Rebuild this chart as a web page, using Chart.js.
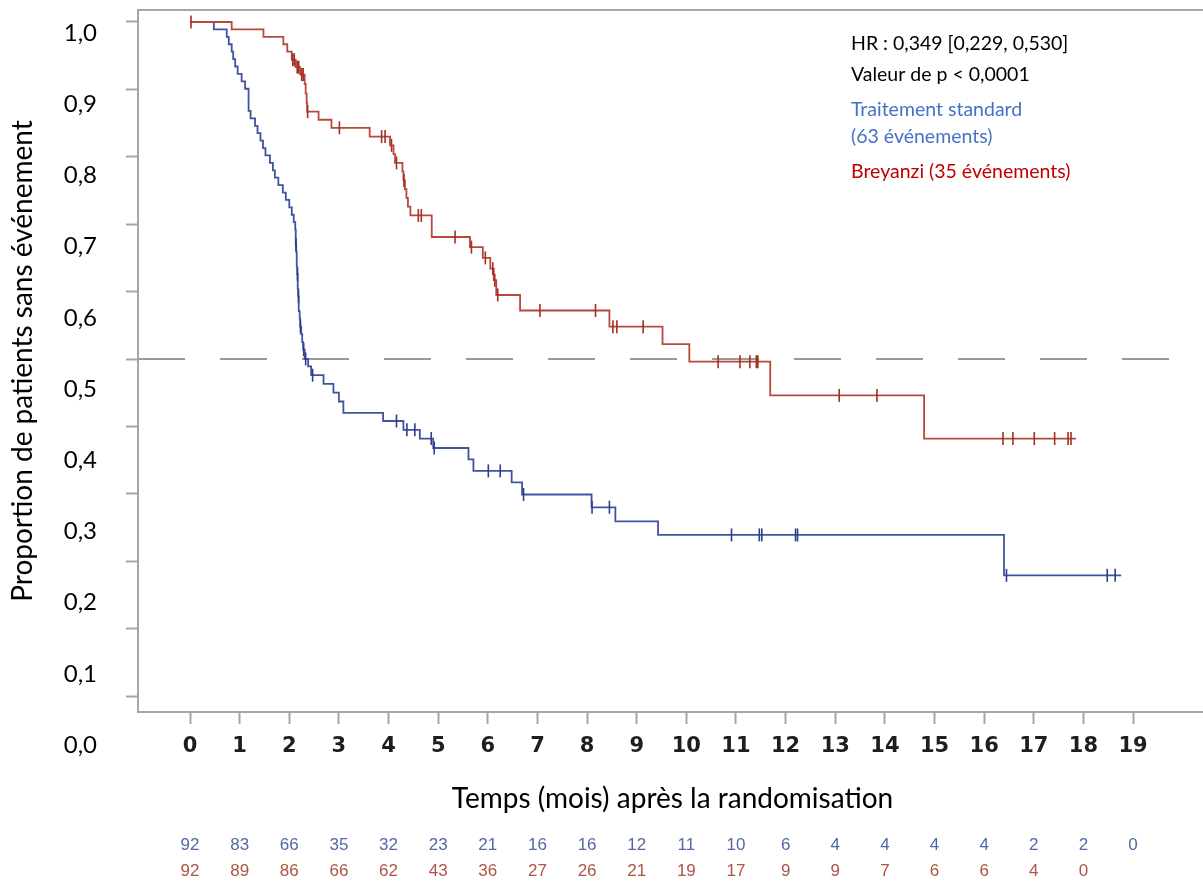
<!DOCTYPE html>
<html><head><meta charset="utf-8">
<script src="https://cdn.jsdelivr.net/npm/chart.js@4.4.0/dist/chart.umd.min.js"></script>
<style>
html,body{margin:0;padding:0;background:#fff;overflow:hidden;}
#wrap{width:1203px;height:884px;position:relative;overflow:hidden;}
#inner{width:1207px;height:884px;position:relative;}
canvas{display:block;}
</style></head>
<body><div id="wrap"><div id="inner"><canvas id="c"></canvas></div></div>
<script>
// ---------------- data ----------------
const xTicks = [0,1,2,3,4,5,6,7,8,9,10,11,12,13,14,15,16,17,18,19];
const yTicks = [0,0.1,0.2,0.3,0.4,0.5,0.6,0.7,0.8,0.9,1.0];

// Traitement standard : event times (months) and survival after each event
const stdTimes = [0.48,0.74,0.78,0.84,0.87,0.91,0.96,1.04,1.11,1.18,1.22,1.31,1.36,1.42,1.47,1.52,1.61,1.67,1.71,1.78,1.87,1.93,2.00,2.05,2.09,2.12,2.13,2.14,2.15,2.16,2.17,2.18,2.19,2.21,2.22,2.24,2.26,2.28,2.31,2.38,2.44,2.69,2.89,3.00,3.09,3.89,4.30,4.63,4.90,5.61,5.71,6.48,6.69,8.09,8.57,9.43,16.40];
const stdSurv  = [0.989,0.978,0.967,0.956,0.945,0.934,0.923,0.912,0.901,0.868,0.857,0.846,0.835,0.824,0.813,0.802,0.791,0.780,0.769,0.758,0.747,0.736,0.725,0.714,0.703,0.692,0.670,0.659,0.637,0.626,0.604,0.593,0.571,0.560,0.548,0.537,0.525,0.514,0.500,0.489,0.476,0.463,0.450,0.437,0.420,0.408,0.395,0.382,0.368,0.351,0.334,0.317,0.299,0.280,0.259,0.239,0.179];
const stdEnd = 18.76;
const stdCensor = [2.135,2.165,2.185,2.225,2.29,2.33,2.47,4.16,4.37,4.53,4.86,4.92,6.01,6.25,6.72,8.10,8.45,10.91,11.47,11.52,12.20,12.24,16.45,18.48,18.64];

// Breyanzi
const breyTimes = [0.84,1.48,1.88,1.96,2.05,2.13,2.22,2.31,2.33,2.35,2.36,2.59,2.85,3.62,4.03,4.10,4.13,4.28,4.30,4.33,4.36,4.39,4.44,4.87,5.64,5.90,6.05,6.12,6.17,6.65,8.45,9.52,10.06,11.69,14.79];
const breySurv  = [0.989,0.978,0.967,0.956,0.944,0.933,0.922,0.908,0.894,0.880,0.867,0.855,0.843,0.830,0.817,0.804,0.791,0.778,0.765,0.752,0.739,0.726,0.713,0.681,0.666,0.650,0.634,0.617,0.595,0.572,0.548,0.522,0.496,0.446,0.382];
const breyEnd = 17.85;
const breyCensor = [0.02,2.07,2.10,2.16,2.19,2.25,2.28,2.37,3.01,3.86,3.93,4.06,4.16,4.31,4.60,4.66,5.34,5.67,5.95,6.10,6.14,6.20,7.05,8.17,8.52,8.60,9.13,10.64,11.08,11.28,11.41,11.44,13.08,13.84,16.38,16.58,17.01,17.42,17.69,17.75];

const medianLevel = 0.5;

const atRiskStd  = [92,83,66,35,32,23,21,16,16,12,11,10,6,4,4,4,4,2,2,0];
const atRiskBrey = [92,89,86,66,62,43,36,27,26,21,19,17,9,9,7,6,6,4,0];

const noteTexts = ['HR : 0,349 [0,229, 0,530]','Valeur de p < 0,0001','Traitement standard','(63 événements)','Breyanzi (35 événements)'];
const seriesNames = ['Traitement standard','Breyanzi'];
const xTitle = 'Temps (mois) après la randomisation';
const yTitle = 'Proportion de patients sans événement';

// ---------------- styling / layout ----------------
const X_MIN = -1.048, X_MAX = 20.49;
const Y_MIN = -0.0237, Y_MAX = 1.0178;
const YL_MIN = 0.0463, YL_MAX = 1.0323;
const GRAY = '#a6a6a6';
const BLUE = '#41539f', RED = '#b8483c';
const BLUE_C = '#2d3f8a', RED_C = '#a32e24';
const noteColors = ['#000000','#000000','#4472c4','#4472c4','#c00000'];
const noteY = [44,75,110,137,172];
const NOTE_X = 851;

function curve(times, surv, end) {
  const pts = [{x: 0, y: 1}];
  times.forEach((t, i) => pts.push({x: t, y: surv[i]}));
  pts.push({x: end, y: surv[surv.length - 1]});
  return pts;
}
function survAt(times, surv, t) {
  let s = 1;
  for (let i = 0; i < times.length; i++) if (times[i] <= t) s = surv[i];
  return s;
}
function censorPts(cens, times, surv) {
  return cens.map(t => ({x: t, y: survAt(times, surv, t)}));
}

const notesPlugin = {
  id: 'notes',
  afterDraw(chart) {
    const ctx = chart.ctx;
    ctx.save();
    ctx.font = '19.5px Lato';
    ctx.textBaseline = 'middle';
    ctx.textAlign = 'left';
    noteTexts.forEach((t, i) => { ctx.fillStyle = noteColors[i]; ctx.fillText(t, NOTE_X, noteY[i]); });
    ctx.restore();
  }
};

function zeroPad(s) { s.paddingLeft = 0; s.paddingRight = 0; s.paddingTop = 0; s.paddingBottom = 0; }

new Chart(document.getElementById('c'), {
  type: 'line',
  data: {
    datasets: [
      {label: seriesNames[1] + ' (censurés)', data: censorPts(breyCensor, breyTimes, breySurv), showLine: false,
       pointStyle: 'line', pointRotation: 90, pointRadius: 6.5, pointBorderWidth: 1.6,
       pointBorderColor: RED_C, borderColor: RED_C, order: 0},
      {label: seriesNames[0] + ' (censurés)', data: censorPts(stdCensor, stdTimes, stdSurv), showLine: false,
       pointStyle: 'line', pointRotation: 90, pointRadius: 6.5, pointBorderWidth: 1.6,
       pointBorderColor: BLUE_C, borderColor: BLUE_C, order: 1},
      {label: seriesNames[1], data: curve(breyTimes, breySurv, breyEnd), stepped: true,
       borderColor: RED, borderWidth: 1.8, pointRadius: 0, fill: false, order: 2},
      {label: seriesNames[0], data: curve(stdTimes, stdSurv, stdEnd), stepped: true,
       borderColor: BLUE, borderWidth: 1.8, pointRadius: 0, fill: false, order: 3},
      {label: 'Médiane', data: [{x: X_MIN, y: medianLevel}, {x: X_MAX, y: medianLevel}],
       borderColor: '#9a9a9a', borderWidth: 2, borderDash: [47, 35], pointRadius: 0, fill: false, order: 10}
    ]
  },
  options: {
    responsive: true, maintainAspectRatio: false, animation: false,
    layout: {autoPadding: false, padding: {top: 10, left: 0, right: 0, bottom: 0}},
    plugins: {legend: {display: false}, tooltip: {enabled: false}},
    scales: {
      x: {
        type: 'linear', position: 'bottom', min: X_MIN, max: X_MAX, weight: 0,
        afterBuildTicks: s => { s.ticks = xTicks.map(v => ({value: v})); },
        afterFit: s => { s.height = 108; zeroPad(s); },
        grid: {display: true, drawOnChartArea: false, drawTicks: true, tickLength: 12, tickColor: GRAY, tickWidth: 2},
        border: {display: true, color: GRAY, width: 2},
        ticks: {autoSkip: false, maxRotation: 0, padding: 10, color: '#1e1e1e',
                font: {family: 'DejaVu Sans', weight: 'bold', size: 21}, callback: v => String(v)},
        title: {display: true, text: xTitle, color: '#000', font: {family: 'Lato', size: 28}, padding: {top: 0, bottom: 4}}
      },
      xr1: {
        type: 'linear', position: 'bottom', min: X_MIN, max: X_MAX, weight: 1,
        afterBuildTicks: s => { s.ticks = atRiskStd.map((n, i) => ({value: xTicks[i]})); },
        afterFit: s => { s.height = 36; zeroPad(s); },
        grid: {display: false, drawTicks: false}, border: {display: false},
        ticks: {autoSkip: false, maxRotation: 0, padding: 15.5, color: '#5468a8',
                font: {family: 'Liberation Sans', size: 17}, callback: (v, i) => String(atRiskStd[i])}
      },
      xr2: {
        type: 'linear', position: 'bottom', min: X_MIN, max: X_MAX, weight: 2,
        afterBuildTicks: s => { s.ticks = atRiskBrey.map((n, i) => ({value: xTicks[i]})); },
        afterFit: s => { s.height = 28; zeroPad(s); },
        grid: {display: false, drawTicks: false}, border: {display: false},
        ticks: {autoSkip: false, maxRotation: 0, padding: 5.5, color: '#ad5445',
                font: {family: 'Liberation Sans', size: 17}, callback: (v, i) => String(atRiskBrey[i])}
      },
      x2: {
        type: 'linear', position: 'top', min: X_MIN, max: X_MAX,
        afterFit: s => { s.height = 0; zeroPad(s); },
        grid: {display: false, drawTicks: false}, border: {display: true, color: GRAY, width: 2},
        ticks: {display: false}
      },
      y: {
        type: 'linear', position: 'left', min: Y_MIN, max: Y_MAX, weight: 0,
        afterBuildTicks: s => { s.ticks = yTicks.map(v => ({value: v})); },
        afterFit: s => { s.width = 12; zeroPad(s); },
        grid: {display: true, drawOnChartArea: false, drawTicks: true, tickLength: 12, tickColor: GRAY, tickWidth: 2},
        border: {display: true, color: GRAY, width: 2},
        ticks: {display: false}
      },
      yl: {
        type: 'linear', position: 'left', min: YL_MIN, max: YL_MAX, weight: 1,
        afterBuildTicks: s => { s.ticks = yTicks.map(v => ({value: v})); },
        afterFit: s => { s.width = 126; zeroPad(s); },
        grid: {display: false, drawTicks: false}, border: {display: false},
        ticks: {autoSkip: false, padding: 29, color: '#000', font: {family: 'Lato', size: 24},
                callback: v => v.toFixed(1).replace('.', ',')},
        title: {display: true, text: yTitle, color: '#000', font: {family: 'Lato', size: 28}, padding: {top: 6, bottom: 0}}
      }
    }
  },
  plugins: [notesPlugin]
});
</script>
</body></html>
